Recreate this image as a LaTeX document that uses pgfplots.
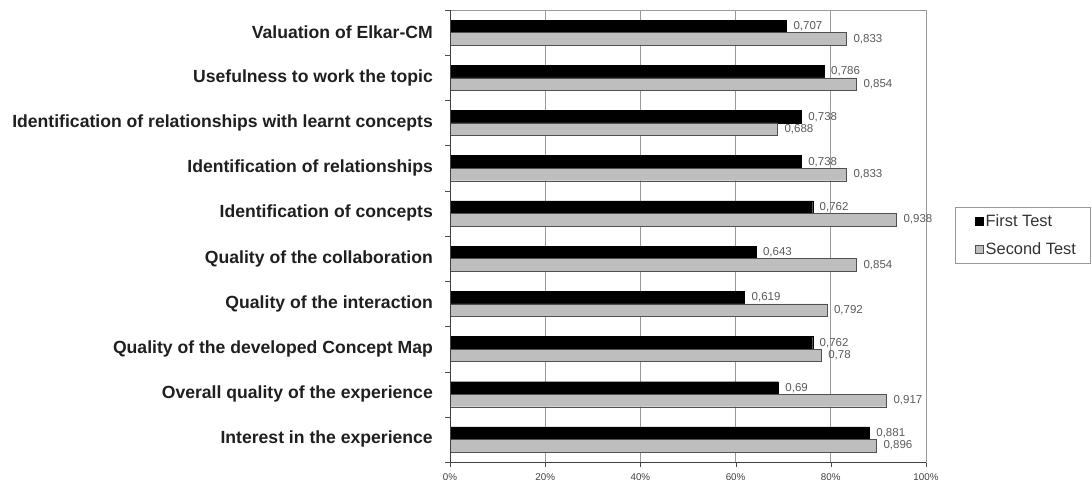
\documentclass[border=0pt]{standalone}
\usepackage{pgfplots}
\pgfplotsset{compat=1.18}
\usepackage{fontspec}
\setmainfont{Liberation Sans}
\definecolor{barg}{HTML}{BEBEBE}
\definecolor{bargd}{HTML}{505050}
\definecolor{gridc}{HTML}{999999}
\definecolor{valc}{HTML}{5A5A5A}
\begin{document}
\begin{tikzpicture}
\path[use as bounding box] (0pt,0pt) rectangle (1092pt,490pt);
\begin{axis}[
  at={(450pt,28pt)}, anchor=south west,
  scale only axis, width=476pt, height=452pt,
  xbar, bar width=12.5pt,
  xmin=0, xmax=1, ymin=-0.5, ymax=9.5,
  /pgf/number format/assume math mode=true,
  xtick={0,0.2,0.4,0.6,0.8,1},
  xticklabels={0\%,20\%,40\%,60\%,80\%,100\%},
  ytick={0,1,2,3,4,5,6,7,8,9},
  yticklabels={Interest in the experience,Overall quality of the experience,Quality of the developed Concept Map,Quality of the interaction,Quality of the collaboration,Identification of concepts,Identification of relationships,Identification of relationships with learnt concepts,Usefulness to work the topic,Valuation of Elkar-CM},
  minor ytick={-0.5,0.5,1.5,2.5,3.5,4.5,5.5,6.5,7.5,8.5,9.5},
  tick align=outside, xtick pos=bottom, ytick pos=left,
  major tick length=5pt, minor tick length=5pt,
  every major y tick/.append style={draw=none},
  tick style={black!70},
  xmajorgrids, major grid style={gridc, line width=0.8pt},
  axis line style={gridc, line width=0.8pt},
  xticklabel style={font=\fontsize{9.8}{11}\selectfont, text=black!75, yshift=-3pt},
  yticklabel style={font=\fontsize{17.6}{20}\selectfont\bfseries, text=black!88, inner sep=0pt, xshift=-12pt},
  nodes near coords,
  every node near coord/.append style={font=\fontsize{11.5}{13}\selectfont, text=valc, xshift=3.5pt,
    /pgf/number format/.cd, fixed, precision=3, use comma},
  legend style={at={(1.0609,0.5642)}, anchor=north west, draw=gridc, line width=0.8pt,
    font=\fontsize{16.4}{18}\selectfont, text=black!80, cells={anchor=west},
    row sep=11pt, inner xsep=12pt, inner ysep=5pt},
  legend image code/.code={\path[draw=none,fill=none] (0pt,0pt) -- (8pt,0pt); \draw[#1, line width=0.6pt] (8pt,-4pt) rectangle (16pt,4pt);},
  after end axis/.code={\draw[black!75, line width=0.9pt] (rel axis cs:0,1) -- (rel axis cs:0,0) -- (rel axis cs:1,0);},
]
\addplot[fill=black, draw=black, bar shift=6.25pt] coordinates {
 (0.881,0) (0.69,1) (0.762,2) (0.619,3) (0.643,4) (0.762,5) (0.738,6) (0.738,7) (0.786,8) (0.707,9)};
\addplot[fill=barg, draw=bargd, bar shift=-6.25pt] coordinates {
 (0.896,0) (0.917,1) (0.78,2) (0.792,3) (0.854,4) (0.938,5) (0.833,6) (0.688,7) (0.854,8) (0.833,9)};
\legend{First Test,Second Test}
\end{axis}
\end{tikzpicture}
\end{document}
